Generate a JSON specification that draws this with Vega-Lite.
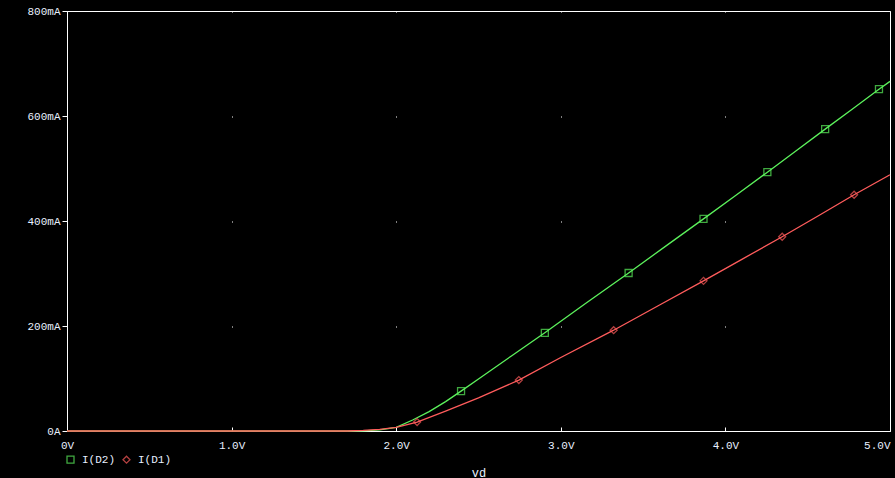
{
  "$schema": "https://vega.github.io/schema/vega-lite/v6.json",
  "width": 823,
  "height": 420,
  "autosize": {"type": "none"},
  "padding": {"left": 67, "top": 11, "right": 5, "bottom": 47},
  "background": "#000000",
  "config": {
    "view": {"stroke": "#ffffff", "strokeWidth": 1},
    "font": "Liberation Mono"
  },
  "data": {
    "values": [
      {"s": "I(D2)", "v": 0, "i": 0, "m": false},
      {"s": "I(D2)", "v": 1.7, "i": 0, "m": false},
      {"s": "I(D2)", "v": 1.8, "i": 0.4, "m": false},
      {"s": "I(D2)", "v": 1.9, "i": 2, "m": false},
      {"s": "I(D2)", "v": 2.0, "i": 7, "m": false},
      {"s": "I(D2)", "v": 2.1, "i": 21, "m": false},
      {"s": "I(D2)", "v": 2.2, "i": 37, "m": false},
      {"s": "I(D2)", "v": 2.3, "i": 56, "m": false},
      {"s": "I(D2)", "v": 2.394, "i": 76, "m": true},
      {"s": "I(D2)", "v": 2.5, "i": 99, "m": false},
      {"s": "I(D2)", "v": 2.7, "i": 143, "m": false},
      {"s": "I(D2)", "v": 2.903, "i": 187, "m": true},
      {"s": "I(D2)", "v": 3.15, "i": 243, "m": false},
      {"s": "I(D2)", "v": 3.412, "i": 301, "m": true},
      {"s": "I(D2)", "v": 3.65, "i": 355, "m": false},
      {"s": "I(D2)", "v": 3.867, "i": 404, "m": true},
      {"s": "I(D2)", "v": 4.06, "i": 448, "m": false},
      {"s": "I(D2)", "v": 4.255, "i": 493, "m": true},
      {"s": "I(D2)", "v": 4.43, "i": 534, "m": false},
      {"s": "I(D2)", "v": 4.606, "i": 575, "m": true},
      {"s": "I(D2)", "v": 4.77, "i": 613, "m": false},
      {"s": "I(D2)", "v": 4.933, "i": 651, "m": true},
      {"s": "I(D2)", "v": 5.0, "i": 666, "m": false},
      {"s": "I(D1)", "v": 0, "i": 0, "m": false},
      {"s": "I(D1)", "v": 1.7, "i": 0, "m": false},
      {"s": "I(D1)", "v": 1.8, "i": 1, "m": false},
      {"s": "I(D1)", "v": 1.9, "i": 3, "m": false},
      {"s": "I(D1)", "v": 2.0, "i": 7, "m": false},
      {"s": "I(D1)", "v": 2.127, "i": 17, "m": true},
      {"s": "I(D1)", "v": 2.3, "i": 38, "m": false},
      {"s": "I(D1)", "v": 2.5, "i": 63, "m": false},
      {"s": "I(D1)", "v": 2.745, "i": 97, "m": true},
      {"s": "I(D1)", "v": 3.0, "i": 140, "m": false},
      {"s": "I(D1)", "v": 3.321, "i": 192, "m": true},
      {"s": "I(D1)", "v": 3.6, "i": 240, "m": false},
      {"s": "I(D1)", "v": 3.867, "i": 286, "m": true},
      {"s": "I(D1)", "v": 4.1, "i": 327, "m": false},
      {"s": "I(D1)", "v": 4.345, "i": 370, "m": true},
      {"s": "I(D1)", "v": 4.56, "i": 409, "m": false},
      {"s": "I(D1)", "v": 4.782, "i": 450, "m": true},
      {"s": "I(D1)", "v": 5.0, "i": 488, "m": false}
    ]
  },
  "encoding": {
    "x": {
      "field": "v",
      "type": "quantitative",
      "scale": {"domain": [0, 5], "nice": false, "zero": false},
      "axis": {
        "title": "vd",
        "values": [0, 1, 2, 3, 4, 5],
        "labelExpr": "format(datum.value, datum.value == 0 ? 'd' : '.1f') + 'V'",
        "labelAlign": {"condition": {"test": "datum.value == 5", "value": "right"}, "value": "center"},
        "labelColor": "#e8f0ff",
        "labelFont": "Liberation Mono",
        "labelFontSize": 11,
        "labelPadding": 12,
        "domainColor": "#ffffff",
        "tickColor": "#ffffff",
        "tickSize": -4,
        "grid": true,
        "gridColor": "#ffffff",
        "gridDash": [1, 104],
        "gridOpacity": 1,
        "titleColor": "#e8f0ff",
        "titleFont": "Liberation Mono",
        "titleFontSize": 12,
        "titleFontWeight": "normal",
        "titlePadding": 17
      }
    },
    "y": {
      "field": "i",
      "type": "quantitative",
      "scale": {"domain": [0, 800], "nice": false},
      "axis": {
        "title": null,
        "values": [0, 200, 400, 600, 800],
        "labelExpr": "datum.value == 0 ? '0A' : datum.value + 'mA'",
        "labelColor": "#e8f0ff",
        "labelFont": "Liberation Mono",
        "labelFontSize": 11,
        "labelPadding": 2,
        "domainColor": "#ffffff",
        "tickColor": "#ffffff",
        "tickSize": 5,
        "grid": false
      }
    },
    "color": {
      "field": "s",
      "type": "nominal",
      "scale": {"domain": ["I(D2)", "I(D1)"], "range": ["#5cf25c", "#ff5c5c"]},
      "legend": {
        "title": null,
        "orient": "none",
        "legendX": -2,
        "legendY": 443,
        "direction": "horizontal",
        "labelColor": "#e8f0ff",
        "labelFont": "Liberation Mono",
        "labelFontSize": 11,
        "labelOffset": 6,
        "columnPadding": 4,
        "symbolSize": 49,
        "symbolStrokeWidth": 1.3,
        "symbolFillColor": "transparent"
      }
    }
  },
  "layer": [
    {
      "mark": {"type": "line", "strokeWidth": 1.3}
    },
    {
      "transform": [{"filter": "datum.m"}],
      "mark": {"type": "point", "filled": false, "strokeWidth": 1.3},
      "encoding": {
        "shape": {
          "field": "s",
          "type": "nominal",
          "scale": {"domain": ["I(D2)", "I(D1)"], "range": ["square", "diamond"]},
          "legend": {
            "title": null,
            "orient": "none",
            "legendX": -2,
            "legendY": 443,
            "direction": "horizontal",
            "labelColor": "#e8f0ff",
            "labelFont": "Liberation Mono",
            "labelFontSize": 11,
            "labelOffset": 6,
            "columnPadding": 4,
            "symbolSize": 49,
            "symbolStrokeWidth": 1.3,
            "symbolFillColor": "transparent"
          }
        },
        "size": {"value": 49}
      }
    }
  ]
}
